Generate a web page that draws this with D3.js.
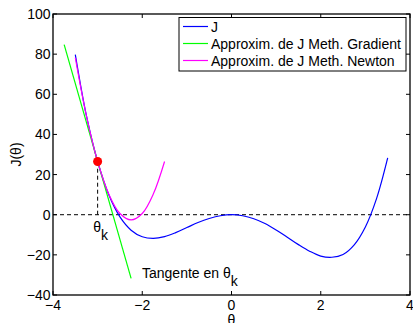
<!DOCTYPE html>
<html>
<head>
<meta charset="utf-8">
<script src="https://cdn.jsdelivr.net/npm/d3@7"></script>
<style>
  body { margin: 0; background: #fff; }
  svg { font-family: "Liberation Sans", Arial, sans-serif; }
</style>
</head>
<body>
<svg id="chart" width="413" height="323"></svg>
<script>
// data
const thetaJ = [-3.5, -3.25, -3, -2.75, -2.5, -2.25, -2, -1.75, -1.5, -1.25, -1, -0.75, -0.5, -0.25,
  0, 0.25, 0.5, 0.75, 1, 1.25, 1.5, 1.75, 2, 2.25, 2.5, 2.75, 3, 3.25, 3.5];
const valuesJ = [79.8, 49.2, 26.5, 9.9, -1.1, -7.7, -11.0, -11.8, -10.9, -8.9, -6.4, -3.9, -1.9, -0.5,
  0, -0.5, -2.0, -4.4, -7.6, -11.2, -14.9, -18.2, -20.6, -21.2, -19.8, -15.0, -6.1, 8.0, 28.3];

const thetaNewton = [-3.5, -3.25, -3, -2.75, -2.5, -2.25, -2, -1.75, -1.5];
const valuesNewton = [78.2, 49.1, 26.5, 10.3, 0.6, -2.6, 0.6, 10.4, 26.5];

const thetaTangent = [-3.75, -2.25];
const valuesTangent = [84.7, -31.7];

const thetaK = -3;
const jK = 26.5;

const xTicks = [-4, -2, 0, 2, 4];
const yTicks = [-40, -20, 0, 20, 40, 60, 80, 100];

const legendLabels = ["J", "Approxim. de J Meth. Gradient", "Approxim. de J Meth. Newton"];
const legendColors = ["#0000ff", "#00ff00", "#ff00ff"];

let svg = d3.select("#chart");

let plotLeft = 53, plotRight = 410, plotTop = 14, plotBottom = 295;

let x = d3.scaleLinear().domain([-4, 4]).range([plotLeft, plotRight]);
let y = d3.scaleLinear().domain([-40, 100]).range([plotBottom, plotTop]);

let fontSize = 14;

// dashed guide lines
svg.append("line")
    .attr("x1", x(-4)).attr("x2", x(4))
    .attr("y1", y(0)).attr("y2", y(0))
    .attr("stroke", "#000").attr("stroke-width", 1)
    .attr("stroke-dasharray", "4,3");

svg.append("line")
    .attr("x1", x(thetaK)).attr("x2", x(thetaK))
    .attr("y1", y(0)).attr("y2", y(jK))
    .attr("stroke", "#000").attr("stroke-width", 1)
    .attr("stroke-dasharray", "4,3");

// curves
function drawCurve(xs, ys, color, curve) {
    let line = d3.line()
        .x(d => x(d[0]))
        .y(d => y(d[1]))
        .curve(curve);
    svg.append("path")
        .datum(xs.map((v, i) => [v, ys[i]]))
        .attr("d", line)
        .attr("fill", "none")
        .attr("stroke", color)
        .attr("stroke-width", 1.2);
}

drawCurve(thetaJ, valuesJ, legendColors[0], d3.curveCatmullRom);
drawCurve(thetaTangent, valuesTangent, legendColors[1], d3.curveLinear);
drawCurve(thetaNewton, valuesNewton, legendColors[2], d3.curveCatmullRom);

// point theta_k
svg.append("circle")
    .attr("cx", x(thetaK)).attr("cy", y(jK))
    .attr("r", 4.5)
    .attr("fill", "#ff0000");

// annotations
let tk = svg.append("text")
    .attr("x", x(thetaK) - 4.5).attr("y", 232)
    .attr("font-size", fontSize);
tk.append("tspan").text("θ");
tk.append("tspan").attr("dy", 8).text("k");

let tg = svg.append("text")
    .attr("x", 142).attr("y", 278)
    .attr("font-size", fontSize);
tg.append("tspan").text("Tangente en ");
tg.append("tspan").text("θ");
tg.append("tspan").attr("dy", 8).text("k");

// axes box
svg.append("rect")
    .attr("x", plotLeft).attr("y", plotTop)
    .attr("width", plotRight - plotLeft).attr("height", plotBottom - plotTop)
    .attr("fill", "none")
    .attr("stroke", "#000")
    .attr("stroke-width", 1.3);

let tickLen = 4;
let fmt = d3.format("");

xTicks.forEach(t => {
    svg.append("line").attr("x1", x(t)).attr("x2", x(t))
        .attr("y1", plotBottom).attr("y2", plotBottom - tickLen).attr("stroke", "#000");
    svg.append("line").attr("x1", x(t)).attr("x2", x(t))
        .attr("y1", plotTop).attr("y2", plotTop + tickLen).attr("stroke", "#000");
    svg.append("text")
        .attr("x", x(t)).attr("y", 310)
        .attr("text-anchor", "middle")
        .attr("font-size", fontSize)
        .text(fmt(t));
});

yTicks.forEach(t => {
    svg.append("line").attr("x1", plotLeft).attr("x2", plotLeft + tickLen)
        .attr("y1", y(t)).attr("y2", y(t)).attr("stroke", "#000");
    svg.append("line").attr("x1", plotRight).attr("x2", plotRight - tickLen)
        .attr("y1", y(t)).attr("y2", y(t)).attr("stroke", "#000");
    svg.append("text")
        .attr("x", 50.5).attr("y", y(t) + 5)
        .attr("text-anchor", "end")
        .attr("font-size", fontSize)
        .text(fmt(t));
});

// axis labels
svg.append("text")
    .attr("x", x(0)).attr("y", 325)
    .attr("text-anchor", "middle")
    .attr("font-size", fontSize)
    .text("θ");

svg.append("text")
    .attr("transform", "translate(21," + ((plotTop + plotBottom) / 2) + ") rotate(-90)")
    .attr("text-anchor", "middle")
    .attr("font-size", fontSize)
    .text("J(θ)");

// legend
let lg = svg.append("g");
lg.append("rect")
    .attr("x", 179).attr("y", 17.5)
    .attr("width", 227).attr("height", 53.5)
    .attr("fill", "#fff")
    .attr("stroke", "#000")
    .attr("stroke-width", 1);

legendLabels.forEach((label, i) => {
    let ly = 26.5 + i * 17;
    lg.append("line")
        .attr("x1", 183).attr("x2", 208)
        .attr("y1", ly).attr("y2", ly)
        .attr("stroke", legendColors[i]).attr("stroke-width", 1.2);
    lg.append("text")
        .attr("x", 211).attr("y", ly + 5)
        .attr("font-size", fontSize)
        .text(label);
});
</script>
</body>
</html>
